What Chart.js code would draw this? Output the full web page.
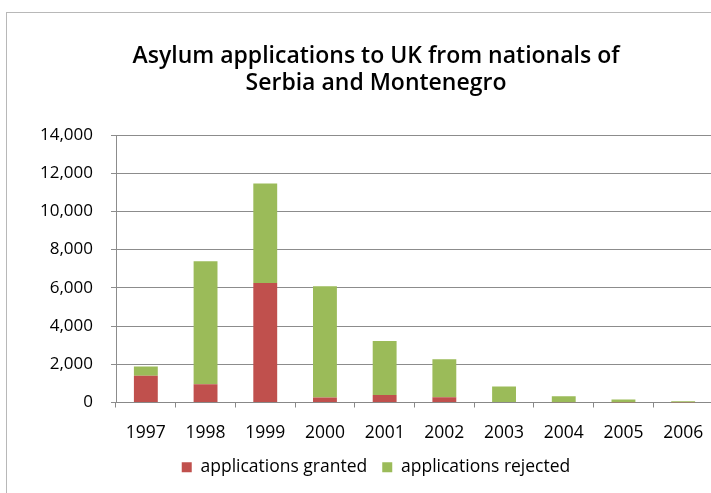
<!DOCTYPE html>
<html>
<head>
<meta charset="utf-8">
<script src="https://cdn.jsdelivr.net/npm/chart.js@4/dist/chart.umd.min.js"></script>
<style>
  html, body { margin: 0; padding: 0; background: #fff; overflow: hidden; }
  #wrap { position: relative; width: 711px; height: 493px; overflow: hidden; }
  #frame { position: absolute; left: 6px; top: 12px; width: 720px; height: 500px;
           border: 1px solid #b8b8b8; box-sizing: border-box; }
  #box { position: absolute; left: 0; top: 0; width: 720px; height: 493px; }
</style>
</head>
<body>
<div id="wrap">
  <div id="frame"></div>
  <div id="box"><canvas id="c"></canvas></div>
</div>
<script>
const years = ['1997', '1998', '1999', '2000', '2001', '2002', '2003', '2004', '2005', '2006'];
const granted  = [1400, 960, 6260, 260, 390, 280, 20, 10, 5, 5];
const rejected = [490, 6430, 5200, 5820, 2830, 1990, 820, 320, 155, 65];
const yTicks = [0, 2000, 4000, 6000, 8000, 10000, 12000, 14000];

const FONT = '"Open Sans", Lato, sans-serif';

new Chart(document.getElementById('c'), {
  type: 'bar',
  data: {
    labels: years,
    datasets: [
      { label: 'applications granted', data: granted, backgroundColor: '#C0504D',
        barPercentage: 0.4, categoryPercentage: 1.0 },
      { label: 'applications rejected', data: rejected, backgroundColor: '#9BBB59',
        barPercentage: 0.4, categoryPercentage: 1.0 }
    ]
  },
  options: {
    responsive: true,
    maintainAspectRatio: false,
    animation: false,
    layout: { padding: { left: 39, right: 7, top: 0, bottom: 7 } },
    plugins: {
      title: {
        display: true,
        text: ['Asylum applications to UK from nationals of', 'Serbia and Montenegro'],
        color: '#000',
        font: { family: FONT, size: 23, weight: '600', lineHeight: 1.174 },
        padding: { top: 43, bottom: 38 }
      },
      legend: {
        position: 'bottom',
        labels: {
          color: '#000',
          font: { family: FONT, size: 17.5 },
          boxWidth: 10, boxHeight: 10, padding: 15
        }
      },
      tooltip: { enabled: false }
    },
    scales: {
      x: {
        stacked: true,
        afterFit: s => { s.height = 41; },
        grid: { offset: true, drawOnChartArea: false, drawTicks: true, tickLength: 5, color: '#888' },
        border: { display: true, color: '#888' },
        ticks: { color: '#000', font: { family: FONT, size: 17.5 }, padding: 15, maxRotation: 0 }
      },
      y: {
        stacked: true,
        min: 0, max: 14000,
        afterBuildTicks: s => { s.ticks = yTicks.map(v => ({ value: v })); },
        afterFit: s => { s.width = 77; },
        grid: { color: '#8c8c8c', tickLength: 5, lineWidth: 1 },
        border: { display: true, color: '#8c8c8c' },
        ticks: {
          color: '#000', font: { family: FONT, size: 17 }, padding: 18,
          callback: v => v.toLocaleString('en-US')
        }
      }
    }
  }
});
</script>
</body>
</html>
